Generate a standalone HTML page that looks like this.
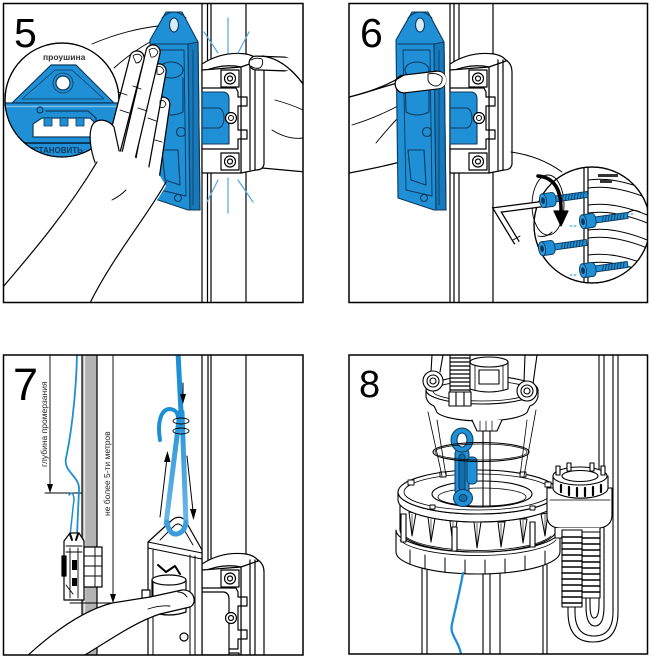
<!DOCTYPE html>
<html><head><meta charset="utf-8">
<style>
html,body{margin:0;padding:0;background:#fff;width:652px;height:659px;overflow:hidden}
svg{display:block}
</style></head><body>
<svg width="652" height="659" viewBox="0 0 652 659" xmlns="http://www.w3.org/2000/svg" font-family="'Liberation Sans', sans-serif">
<defs>
 <clipPath id="c5"><rect x="3" y="3" width="300" height="300"/></clipPath>
 <clipPath id="c6"><rect x="349" y="3" width="299" height="300"/></clipPath>
 <clipPath id="c7"><rect x="3" y="355" width="300" height="300"/></clipPath>
 <clipPath id="c8"><rect x="349" y="355" width="299" height="299"/></clipPath>
 <clipPath id="m5"><circle cx="62" cy="100" r="57"/></clipPath>
 <clipPath id="m6"><circle cx="592" cy="225" r="58"/></clipPath>
 <linearGradient id="rg" gradientUnits="userSpaceOnUse" x1="0" y1="405" x2="0" y2="530">
  <stop offset="0" stop-color="#1e8fd5"/><stop offset="1" stop-color="#72bbe8"/>
 </linearGradient>

 <g id="clamp" stroke="#000" stroke-width="1.2" fill="#fff" stroke-linejoin="round">
  <path d="M241,62 Q252,56 258,60 Q264,64 264,72 L264,164 Q263,170 256,170 L241,173 Z"/>
  <path d="M202,64 Q222,51 246,54 Q256,56 258,61 L241,67 Q222,63 202,72 Z"/>
  <path d="M202,70 L241,67 L241,173 L202,173 Z"/>
  <path d="M250,60 V170 M255,60 V170" fill="none"/>
  <rect x="221" y="70" width="18" height="17"/>
  <circle cx="230" cy="78.5" r="5.5"/><circle cx="230" cy="78.5" r="2.5"/>
  <rect x="221" y="153" width="18" height="17"/>
  <circle cx="230" cy="161.5" r="5.5"/><circle cx="230" cy="161.5" r="2.5"/>
  <path d="M202,88 L236,88 L238,92 L238,97 L247,97 L247,106 L238,106 L238,130 L247,130 L247,139 L238,139 L238,149 L202,149" fill="none"/>
 </g>

 <g id="ins">
  <path d="M202,92 L224,92 Q229,93 229,99 L229,144 L202,144 Z" fill="#1f8fd6" stroke="#0d3a5c" stroke-width="1.1"/>
  <path d="M202,108 L219,108 Q224,110 224,118 Q224,126 219,128 L202,128" fill="none" stroke="#0d3a5c" stroke-width="1"/>
  <circle cx="231" cy="118" r="5.5" fill="#fff" stroke="#000" stroke-width="1.2"/>
  <circle cx="231" cy="118" r="2.5" fill="#fff" stroke="#000" stroke-width="1"/>
 </g>

 <g id="bracket" stroke="#0d3a5c" stroke-width="1.1" stroke-linejoin="round">
  <path d="M150,40 L166,12 L182,12 L198,42 L200,210 L188,210 L152,198 Z" fill="#1f8fd6"/>
  <path d="M188,44 L198,42 L200,210 L190,210 Z" fill="#1579bb"/>
  <path d="M152,44 L188,44" fill="none"/>
  <path d="M157,50 L184,50 L186,196 L160,190 Z" fill="none" stroke-width="0.9"/>
  <ellipse cx="174" cy="25" rx="4.5" ry="7" fill="#d8ecf8"/>
  <path d="M162,18 Q174,6 186,18" fill="none"/>
  <ellipse cx="171" cy="70" rx="12" ry="8" fill="none"/>
  <path d="M159,78 L160,112 M183,78 L183,112 M160,112 Q171,118 183,112" fill="none"/>
  <circle cx="181" cy="132" r="4.5" fill="none"/>
  <path d="M162,150 L178,150 L180,185 L165,180 Z" fill="none"/>
  <circle cx="178" cy="198" r="3.5" fill="none"/>
  <path d="M193,50 V205" fill="none" stroke-width="0.8"/>
 </g>

 <g id="screw" stroke="#0d3a5c" stroke-width="0.9">
  <path d="M5,-3 L40,-3 L40,3 L5,3 Z" fill="#1f8fd6"/>
  <path d="M16,-3 l-2,6 M19,-3 l-2,6 M22,-3 l-2,6 M25,-3 l-2,6 M28,-3 l-2,6 M31,-3 l-2,6 M34,-3 l-2,6 M37,-3 l-2,6" fill="none"/>
  <path d="M-5,-7 L4,-7 Q8,-7 8,0 Q8,7 4,7 L-5,7 Z" fill="#1f8fd6"/>
  <ellipse cx="-5" cy="0" rx="3.5" ry="7" fill="#2c9be0"/>
  <ellipse cx="-5" cy="0" rx="1.5" ry="3" fill="#0d3a5c"/>
 </g>
</defs>

<!-- ================= PANEL 5 ================= -->
<g clip-path="url(#c5)" stroke="#000" stroke-width="1.2" fill="none" stroke-linejoin="round" stroke-linecap="round">
 <path d="M202,3 V303 M207.5,3 V303 M211,3 V303 M246,3 V303"/>
 <!-- right hand body -->
 <path d="M258,62 L262,168 L306,172 L306,88 C295,72 280,58 262,56 Z" fill="#fff"/>
 <path d="M272,130 Q288,140 303,138 M275,100 Q290,104 303,110" stroke-width="0.9"/>
 <use href="#clamp"/>
 <use href="#ins"/>
 <!-- thumb -->
 <line x1="256" y1="63" x2="284" y2="64" stroke="#000" stroke-width="15"/>
 <line x1="256" y1="63" x2="286" y2="64" stroke="#fff" stroke-width="12.6"/>
 <path d="M251,60 Q256,57 262,59 Q264,64 260,68 Q254,69 251,66" stroke-width="0.9"/>
 <path d="M262,56 C280,58 295,72 306,88" />
 <use href="#bracket"/>

 <!-- magnifier -->
 <circle cx="62" cy="100" r="57" fill="#fff"/>
 <g clip-path="url(#m5)">
  <path d="M51,65 L76,65 L114,103 L12,103 Z" fill="#1f8fd6" stroke="#0d3a5c"/>
  <path d="M55,70 L72,70 L104,99 L22,99 Z" stroke="#0d3a5c" stroke-width="0.8"/>
  <circle cx="63" cy="83" r="10" stroke="#0d3a5c" stroke-width="0.8"/>
  <circle cx="63" cy="83" r="7" fill="#fff" stroke="#0d3a5c"/>
  <rect x="3" y="103" width="120" height="62" fill="#1f8fd6" stroke="#0d3a5c"/>
  <path d="M3,106.5 H120" stroke="#7fc0ea" stroke-width="1.5"/>
  <circle cx="40" cy="110" r="3" stroke="#0d3a5c"/>
  <path d="M46,111 H88 L96,118 V124" stroke="#0d3a5c"/>
  <path d="M33,124 L42,118 H90 L95,123 V137 H33 Z" fill="#fff" stroke="#0d3a5c"/>
  <path d="M44,118 h8 v8 h-8 Z M60,118 h8 v8 h-8 Z M76,118 h8 v8 h-8 Z" fill="#1f8fd6" stroke="#0d3a5c" stroke-width="0.8"/>
  <path d="M10,143 H115" stroke="#0d3a5c" stroke-width="2"/>
  <text x="28" y="153" font-size="8" font-weight="bold" fill="#0d3a5c" stroke="none">УСТАНОВИТЬ</text>
 </g>
 <circle cx="62" cy="100" r="57"/>
 <path d="M92,44 Q125,30 158,26 M114,68 Q132,52 150,42" stroke-width="0.9"/>

 <!-- left hand fingers -->
 <line x1="163" y1="104" x2="152" y2="180" stroke="#000" stroke-width="15"/>
 <line x1="163" y1="104" x2="152" y2="180" stroke="#fff" stroke-width="12.5"/>
 <line x1="159" y1="71" x2="142" y2="165" stroke="#000" stroke-width="15.5"/>
 <line x1="159" y1="71" x2="142" y2="165" stroke="#fff" stroke-width="13"/>
 <line x1="153" y1="52" x2="128" y2="158" stroke="#000" stroke-width="15.5"/>
 <line x1="153" y1="52" x2="128" y2="158" stroke="#fff" stroke-width="13"/>
 <line x1="137" y1="58" x2="112" y2="155" stroke="#000" stroke-width="15.5"/>
 <line x1="137" y1="58" x2="112" y2="155" stroke="#fff" stroke-width="13"/>
 <!-- thumb in circle -->
 <path d="M96,165 C90,150 88,132 93,124 C98,118 108,119 114,127 L120,155 Z" fill="#fff"/>
 <path d="M3,287 C30,255 65,215 97,160 L108,150 L124,152 L140,160 L152,170 L160,176 L166,186 L90,306 L3,306 Z" fill="#fff" stroke="none"/>
 <path d="M3,287 C30,255 65,215 97,162"/>
 <path d="M166,182 C150,212 112,258 90,303"/>
 <path d="M120,110 l9,3 M138,108 l9,3 M148,118 l8,3 M155,140 l7,2 M118,92 l9,3 M133,86 l8,3 M112,200 Q120,196 126,190" stroke-width="0.9"/>
 <path d="M133,56 Q138,52 142,57 Q141,63 136,63 Z M149,50 Q155,46 158,52 Q156,58 151,57 Z M157,67 Q162,65 164,71 Q161,76 157,74 Z M160,101 Q164,99 166,104 Q164,109 160,107 Z" stroke-width="0.8"/>

 <!-- rays -->
 <path d="M204,32 L218,53 M228,18 V53 M249,32 L238,53 M218,180 L207,202 M228,178 V213 M238,180 L253,202" stroke="#5aaee0" stroke-width="1.3"/>
 <text x="14" y="47" font-size="41" fill="#000" stroke="none">5</text>
 <text x="43" y="60" font-size="8.5" font-weight="bold" fill="#333" stroke="none">проушина</text>
</g>

<!-- ================= PANEL 6 ================= -->
<g clip-path="url(#c6)" stroke="#000" stroke-width="1.2" fill="none" stroke-linejoin="round" stroke-linecap="round">
 <path d="M450,3 V303 M454,3 V303 M459,3 V303 M493,3 V303"/>
 <!-- hand behind -->
 <path d="M349,97 C370,92 390,84 410,80 L412,95 L402,110 L400,162 C385,166 365,170 349,173 Z" fill="#fff"/>
 <path d="M376,143 Q390,126 398,118 M352,125 Q375,118 398,106" stroke-width="0.9"/>
 <use href="#clamp" transform="translate(248,0)"/>
 <use href="#ins" transform="translate(248,0)"/>
 <use href="#bracket" transform="translate(246,0)"/>
 <!-- index finger -->
 <line x1="404" y1="84" x2="437" y2="80" stroke="#000" stroke-width="19"/>
 <line x1="404" y1="84" x2="438" y2="80" stroke="#fff" stroke-width="16.5"/>
 <path d="M428,74 Q437,72 442,77 Q443,84 437,86 Q430,86 428,80 Z" stroke-width="0.9"/>
 <path d="M349,97 C370,92 390,84 404,75"/>
 <!-- callout -->
 <path d="M511,152 Q540,156 562,172" stroke-width="0.9"/>
 <!-- magnifier -->
 <circle cx="592" cy="225" r="58" fill="#fff"/>
 <g clip-path="url(#m6)">
  <path d="M584,165 V290 M588,165 V290"/>
  <path d="M588,180 Q615,176 652,192 M588,188 Q615,184 652,200" stroke-width="1"/>
  <path d="M588,205 Q615,201 652,217 M588,213 Q615,209 652,225" stroke-width="1"/>
  <path d="M588,230 Q615,226 652,242 M588,238 Q615,234 652,250" stroke-width="1"/>
  <path d="M588,255 Q615,251 652,267 M588,263 Q615,259 652,275" stroke-width="1"/>
  <rect x="598" y="174" width="20" height="3" fill="#333" stroke="none"/>
  <rect x="600" y="180" width="12" height="3" fill="#333" stroke="none"/>
  <path d="M625,215 Q632,208 640,212" stroke-width="1"/>
 </g>
 <circle cx="592" cy="225" r="58"/>
 <ellipse cx="548" cy="205" rx="16" ry="30" stroke-width="0.9"/>
 <path d="M552,232 Q546,238 538,236" stroke-width="0.9"/>
 <!-- hex key -->
 <path d="M543,204 L497,210 L517,243" stroke="#000" stroke-width="6.5" stroke-linecap="butt" stroke-linejoin="miter"/>
 <path d="M543,204 L497,210 L517,243" stroke="#fff" stroke-width="4" stroke-linecap="butt" stroke-linejoin="miter"/>
 <path d="M513,240 L520,236" stroke-width="0.9"/>
 <!-- screws -->
 <use href="#screw" transform="translate(548,200) rotate(-8)"/>
 <use href="#screw" transform="translate(588,221) rotate(-8)"/>
 <use href="#screw" transform="translate(547,248) rotate(-8)"/>
 <use href="#screw" transform="translate(588,270) rotate(-8)"/>
 <path d="M570,226 H578 M570,275 H578 M627,214 H635" stroke="#1f8fd6" stroke-dasharray="2 2" stroke-width="0.9"/>
 <!-- rotation arrow -->
 <path d="M538,176 Q562,178 561,212" stroke="#000" stroke-width="3.5"/>
 <path d="M554,211 L561,226 L568,211 Z" fill="#000"/>
 <text x="360" y="47" font-size="41" fill="#000" stroke="none">6</text>
</g>

<!-- ================= PANEL 7 ================= -->
<g clip-path="url(#c7)" stroke="#000" stroke-width="1.2" fill="none" stroke-linejoin="round" stroke-linecap="round">
 <rect x="82" y="350" width="15" height="310" fill="#b3b3b3"/>
 <path d="M84.5,355 V655" stroke="#e6e6e6" stroke-width="1.5"/>
 <!-- dimensions -->
 <path d="M50,355 V488 M45,493 H82 M113,355 V598 M70,603 H117" stroke-width="0.9"/>
 <path d="M47,484 L50,493 L53,484 Z M110,594 L113,603 L116,594 Z" fill="#000" stroke="none"/>
 <text transform="translate(47,467) rotate(-90)" font-size="8.5" fill="#222" stroke="none">глубина промерзания</text>
 <text transform="translate(110,516) rotate(-90)" font-size="8.5" fill="#222" stroke="none">не более 5-ти метров</text>
 <!-- thin rope -->
 <path d="M77,355 C76,400 70,440 66,458 C63,472 80,476 79,490 L77,535" stroke="#1e8fd5" stroke-width="1.8"/>
 <path d="M70,536 L74,499 Q73,490 69,495" stroke="#1e8fd5" stroke-width="1.5"/>
 <!-- small device -->
 <path d="M64,541 L70,533 L79,533 L84,541 L84,600 L64,600 Z" fill="#fff"/>
 <rect x="84" y="547" width="18" height="40" fill="#fff"/>
 <path d="M84,556 H102 M84,566 H102 M84,576 H102 M95,547 V587" stroke-width="0.9"/>
 <path d="M66,546 H82 M66,552 H82 M70,548 V598 M78,548 V598 M66,585 L73,594" stroke-width="0.9"/>
 <rect x="62" y="556" width="4" height="20" fill="#000"/>
 <rect x="72" y="560" width="5" height="10" fill="#000" stroke="none"/>
 <rect x="72" y="578" width="5" height="8" fill="#000" stroke="none"/>
 <path d="M70,534 L72,540 M78,534 L76,540" stroke="#000" stroke-width="2"/>
 <!-- right pipe -->
 <path d="M202,355 V570 M208,355 V570 M211,355 V570 M246,355 V570"/>
 <use href="#clamp" transform="translate(0,500)"/>
 <path d="M202,592 L224,592 Q229,593 229,599 L229,655 L202,655 Z" fill="#fff"/>
 <circle cx="231" cy="618" r="5.5" fill="#fff"/><circle cx="231" cy="618" r="2.5"/>
 <!-- device bracket -->
 <path d="M148,542 L171,521 Q178,514 185,520 L202,550 L202,660 L148,660 Z" fill="#fff"/>
 <path d="M148,542 L202,553 M148,548 L202,559 M190,555 V655 M195,556 V655 M153,550 V655" stroke-width="1"/>
 <path d="M160,540 L174,526 Q178,522 182,526 L193,545" stroke-width="0.9"/>
 <ellipse cx="169" cy="580" rx="17" ry="5" fill="#fff"/>
 <path d="M152,580 V612 M186,580 V612 M152,612 Q169,618 186,612"/>
 <path d="M158,565 L166,572 L175,566 L180,574" stroke-width="2"/>
 <path d="M160,598 H182" stroke="#000" stroke-width="2.5"/>
 <rect x="142" y="590" width="8" height="12" fill="#fff"/>
 <circle cx="184" cy="637" r="4"/>
 <!-- big rope -->
 <path d="M178,352 L181,412" stroke="#1e8fd5" stroke-width="5"/>
 <path d="M180,412 L166,524 M182,412 L186,524" stroke="url(#rg)" stroke-width="5"/>
 <path d="M167,522 Q169,535 177,534 Q185,532 186,522" stroke="#3a9edc" stroke-width="5"/>
 <path d="M160,440 C157,422 161,410 169,409 C176,409 178,414 178,418" stroke="#1e8fd5" stroke-width="4"/>
 <ellipse cx="181" cy="421" rx="8" ry="3" stroke-width="0.9"/>
 <ellipse cx="181" cy="431" rx="8" ry="3" stroke-width="0.9"/>
 <!-- arrows -->
 <path d="M160,517 L167,458 M187,456 L193,511 M183,383 L183,396" stroke-width="1"/>
 <path d="M164,462 L167.5,451 L170.5,462 Z M190,509 L193.5,520 L196.5,509 Z M180,394 L183,404 L186,394 Z" fill="#000" stroke="none"/>
 <!-- hand -->
 <path d="M25,658 C55,630 85,610 112,603 L150,597 L182,590 C194,589 198,603 190,607 L160,614 C135,622 110,640 80,658 Z" fill="#fff"/>
 <path d="M148,609 Q160,605 170,606 M178,592 Q184,592 187,597" stroke-width="0.9"/>
 <text x="13" y="400" font-size="45" fill="#000" stroke="none">7</text>
</g>

<!-- ================= PANEL 8 ================= -->
<g clip-path="url(#c8)" stroke="#000" stroke-width="1.1" fill="none" stroke-linejoin="round" stroke-linecap="round">
 <!-- right tubes -->
 <path d="M618,355 V612 Q618,642 593,642 Q568,642 568,612 V600"/>
 <path d="M613,355 V612 Q613,636 594,636 Q575,636 575,612 V600"/>
 <path d="M604,355 V606 Q604,626 595,626 Q586,626 586,606 V597"/>
 <path d="M599,355 V604 Q599,618 594,618 Q590,618 590,604 V597"/>
 <!-- pump body -->
 <path d="M422,565 V660 M427,565 V660 M483,565 V660 M490,565 V660 M500,565 V660 M543,565 V660 M547,565 V660"/>
 <!-- lower ring -->
 <path d="M396,530 A82,22 0 0 0 560,530 L560,552 A82,22 0 0 1 396,552 Z" fill="#fff"/>
 <path d="M410,550 V564 M425,555 V569 M445,558 V572 M465,560 V574 M485,560 V574 M505,559 V573 M525,556 V570 M545,551 V565" stroke-width="1"/>
 <path d="M400,540 A80,20 0 0 0 556,540" stroke-width="0.8"/>
 <!-- core between rings -->
 <path d="M400,500 A78,22 0 0 0 556,500 L556,530 A78,22 0 0 1 400,530 Z" fill="#fff"/>
 <path d="M405,536 A76,20 0 0 0 551,536" stroke-width="0.8"/>
 <path d="M409,512 L416,513 L412,536 Z M428,517 L435,518 L431,542 Z M450,521 L457,521 L453,546 Z M474,522 L481,522 L477,548 Z M498,522 L505,522 L501,547 Z M520,519 L527,519 L523,543 Z M541,514 L548,513 L545,536 Z" fill="#fff" stroke-width="1"/>
 <path d="M412,514 V533 M431,519 V539 M453,522 V543 M477,523 V545 M501,523 V544 M523,520 V540 M545,514 V533" stroke-width="0.6"/>
 <rect x="401" y="514" width="5" height="28" fill="#fff"/>
 <rect x="452" y="527" width="5" height="24" fill="#fff"/>
 <rect x="530" y="522" width="5" height="25" fill="#fff"/>
 <!-- upper ring -->
 <path d="M398,492 A80,22 0 0 0 558,492 L558,500 A80,22 0 0 1 398,500 Z" fill="#fff"/>
 <ellipse cx="478" cy="492" rx="80" ry="22" fill="#fff"/>
 <ellipse cx="478" cy="492" rx="74" ry="18" stroke-width="0.8"/>
 <ellipse cx="482" cy="494" rx="50" ry="13" fill="#fff"/>
 <ellipse cx="482" cy="497" rx="44" ry="9" stroke-width="0.8"/>
 <path d="M408,480 h6 v5 h-6 Z M440,472 h6 v5 h-6 Z M520,472 h6 v5 h-6 Z M545,482 h6 v5 h-6 Z M430,505 h5 v4 h-5 Z M530,506 h5 v4 h-5 Z" fill="#fff" stroke-width="0.9"/>
 <!-- rod & cords -->
 <path d="M483,425 V506 M490,425 V506"/>
 <path d="M437,420 L446,476 M428,412 L442,476 M527,420 L520,476 M536,410 L524,476" stroke-width="0.8"/>
 <!-- chain -->
 <g fill="#1f8fd6" stroke="#0d3a5c" stroke-width="1">
  <rect x="455" y="447" width="14" height="50" rx="7"/>
  <rect x="459" y="454" width="6" height="36" rx="3" fill="#1270ad"/>
  <rect x="467" y="457" width="10" height="27" rx="4"/>
  <ellipse cx="462" cy="440" rx="11" ry="12"/>
  <ellipse cx="462" cy="440" rx="5" ry="7" fill="#fff"/>
  <ellipse cx="463" cy="498" rx="9.5" ry="8.5"/>
  <ellipse cx="463" cy="498" rx="4" ry="3.5" fill="#1270ad"/>
 </g>
 <!-- o-ring -->
 <ellipse cx="481" cy="452" rx="48" ry="9.5"/>
 <ellipse cx="481" cy="452" rx="46" ry="8" stroke-width="0.7"/>
 <!-- top head -->
 <path d="M432,355 L431,372 M443,355 L440,372 M525,355 L524,382 M537,355 L533,384"/>
 <path d="M426,390 L426,397 Q428,404 434,406 L436,410 A46,11 0 0 0 528,410 L530,406 Q536,404 538,397 L538,390 Z" fill="#fff"/>
 <ellipse cx="482" cy="390" rx="56" ry="14" fill="#fff"/>
 <ellipse cx="482" cy="391" rx="49" ry="10" stroke-width="0.8"/>
 <path d="M472,420 L477,431 L497,431 L502,420" fill="#fff"/>
 <path d="M480,421 V430 M486,421 V431 M492,421 V430" stroke-width="0.7"/>
 <circle cx="433" cy="381" r="10" fill="#fff"/><circle cx="433" cy="381" r="6"/><circle cx="433" cy="381" r="3"/>
 <circle cx="527" cy="391" r="10" fill="#fff"/><circle cx="527" cy="391" r="6"/><circle cx="527" cy="391" r="3"/>
 <rect x="450" y="352" width="20" height="42" fill="#fff"/>
 <path d="M450,358 H470 M450,362 H470 M450,366 H470 M450,370 H470 M450,374 H470 M450,378 H470 M450,382 H470 M450,386 H470 M450,390 H470" stroke-width="1.3"/>
 <rect x="449" y="392" width="22" height="14" fill="#fff"/>
 <path d="M456,392 V406 M464,392 V406"/>
 <path d="M470,362 L470,389 Q489,395 508,389 L508,362 Z" fill="#fff"/>
 <ellipse cx="489" cy="362" rx="19" ry="5" fill="#fff"/>
 <rect x="479" y="370" width="20" height="14"/>
 <path d="M475,366 V390 M503,366 V390" stroke-width="0.8"/>
 <!-- side box -->
 <path d="M547,488 L547,518 Q549,528 560,528 L600,528 Q612,526 612,515 L612,488 Z" fill="#fff"/>
 <path d="M555,528 L555,538 L600,538 L600,528" fill="#fff"/>
 <path d="M553,476 L553,488 A27,10 0 0 0 608,488 L608,476 Z" fill="#fff"/>
 <ellipse cx="580" cy="476" rx="27" ry="9" fill="#fff"/>
 <ellipse cx="580" cy="476" rx="18" ry="5.5"/>
 <path d="M556,466 h4 v9 h-4 Z M567,463 h4 v8 h-4 Z M590,463 h4 v8 h-4 Z M601,466 h4 v9 h-4 Z" fill="#fff"/>
 <path d="M561,485 v7 M569,487 v8 M577,488 v8 M585,488 v8 M593,487 v8 M601,485 v7" stroke-width="2.2"/>
 <path d="M550,500 H610" stroke-width="0.8"/>
 <!-- springs -->
 <rect x="582" y="532" width="18" height="66" fill="#fff"/>
 <path d="M582,538 H600 M582,544 H600 M582,550 H600 M582,556 H600 M582,562 H600 M582,568 H600 M582,574 H600 M582,580 H600 M582,586 H600 M582,592 H600" stroke-width="1.5"/>
 <rect x="562" y="530" width="20" height="77" fill="#fff"/>
 <path d="M562,537 H582 M562,543 H582 M562,549 H582 M562,555 H582 M562,561 H582 M562,567 H582 M562,573 H582 M562,579 H582 M562,585 H582 M562,591 H582 M562,597 H582 M562,603 H582" stroke-width="1.5"/>
 <!-- blue wire -->
 <path d="M463,573 C460,590 456,606 452,624 C449,636 460,640 462,660" stroke="#1e8fd5" stroke-width="2.3"/>
 <text x="359" y="397" font-size="38" fill="#000" stroke="none">8</text>
</g>

<!-- borders -->
<g fill="none" stroke="#000" stroke-width="1.5">
 <rect x="3.5" y="3.5" width="299.5" height="299"/>
 <rect x="349" y="3.5" width="298.5" height="299"/>
 <rect x="3.5" y="355" width="299.5" height="300"/>
 <rect x="349" y="355" width="298.5" height="299"/>
</g>
</svg>
</body></html>
